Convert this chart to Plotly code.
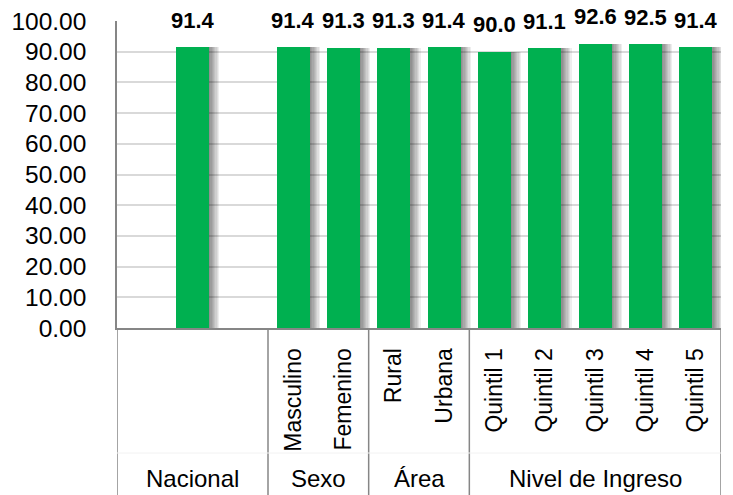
import plotly.graph_objects as go

# ---- data ----
groups = ["Nacional", "Sexo", "Área", "Nivel de Ingreso"]
group_slots = [3, 2, 2, 5]  # slots occupied by each group on the category axis
categories = ["Nacional", "Masculino", "Femenino", "Rural", "Urbana",
              "Quintil 1", "Quintil 2", "Quintil 3", "Quintil 4", "Quintil 5"]
cat_groups = ["Nacional", "Sexo", "Sexo", "Área", "Área",
              "Nivel de Ingreso", "Nivel de Ingreso", "Nivel de Ingreso",
              "Nivel de Ingreso", "Nivel de Ingreso"]
values = [91.4, 91.4, 91.3, 91.3, 91.4, 90.0, 91.1, 92.6, 92.5, 91.4]
tick_labels = ["", "Masculino", "Femenino", "Rural", "Urbana",
               "Quintil 1", "Quintil 2", "Quintil 3", "Quintil 4", "Quintil 5"]
y_ticks = [0, 10, 20, 30, 40, 50, 60, 70, 80, 90, 100]

# ---- positions on the category axis ----
group_start = {}
s = 0
for g, n in zip(groups, group_slots):
    group_start[g] = s
    s += n
total_slots = s
xpos = []
for c, g in zip(categories, cat_groups):
    members = [cc for cc, gg in zip(categories, cat_groups) if gg == g]
    n = group_slots[groups.index(g)]
    if len(members) < n:
        xpos.append(group_start[g] + (n - 1) / 2)
    else:
        xpos.append(group_start[g] + members.index(c))

FONT = "Arial, Liberation Sans, sans-serif"
BAR_W = 0.66

fig = go.Figure()
# soft shadow layers
steps = 8
for i in range(steps, 0, -1):
    k = 0.025 * i
    fig.add_trace(go.Bar(
        x=xpos, y=values, width=BAR_W, offset=-BAR_W / 2 + k,
        marker=dict(color="rgba(0,0,0,0.065)", line=dict(width=0)),
        hoverinfo="skip", showlegend=False))
fig.add_trace(go.Bar(
    x=xpos, y=values, width=BAR_W, offset=-BAR_W / 2,
    marker=dict(color="#00B050", line=dict(width=0)),
    showlegend=False))

# data labels
for x, v in zip(xpos, values):
    fig.add_annotation(x=x, y=v, xref="x", yref="y", text=f"<b>{v:.1f}</b>",
                       showarrow=False, yshift=27, yanchor="middle",
                       font=dict(family=FONT, size=22, color="#000000"))

plot_h = 495 - 21 - 167
bottom_frac = -167 / plot_h

# group dividers and group labels
bounds = [-0.5]
for g, n in zip(groups, group_slots):
    bounds.append(bounds[-1] + n)
for b in bounds:
    fig.add_shape(type="line", xref="x", yref="paper", x0=b, x1=b,
                  y0=0, y1=bottom_frac, line=dict(color="#868686", width=1.5))
fig.add_shape(type="line", xref="x", yref="paper", x0=-0.5, x1=bounds[-1],
              y0=-(453 - 328) / plot_h, y1=-(453 - 328) / plot_h,
              line=dict(color="#F2F2F2", width=1))
for i, g in enumerate(groups):
    fig.add_annotation(x=(bounds[i] + bounds[i + 1]) / 2, y=-(478 - 328) / plot_h,
                       xref="x", yref="paper", text=g, showarrow=False,
                       yanchor="middle", font=dict(family=FONT, size=24, color="#000000"))

fig.update_layout(
    width=733, height=495,
    margin=dict(l=117, r=12, t=21, b=167),
    plot_bgcolor="white", paper_bgcolor="white",
    barmode="overlay", bargap=0,
    font=dict(family=FONT, color="#000000"),
    xaxis=dict(range=[-0.5, total_slots - 0.5], tickvals=xpos, ticktext=tick_labels,
               tickangle=-90, tickfont=dict(family=FONT, size=23, color="#000000"),
               showgrid=False, zeroline=False, showline=True, linecolor="#868686",
               linewidth=2, ticks="", ticklabelstandoff=9, fixedrange=True,
               automargin=False),
    yaxis=dict(range=[0, 100], tickvals=y_ticks,
               ticktext=[f"{t:.2f}" for t in y_ticks],
               tickfont=dict(family=FONT, size=24.5, color="#000000"),
               showgrid=True, gridcolor="#D9D9D9", gridwidth=1.5,
               zeroline=False, showline=True, linecolor="#868686", linewidth=1.5,
               ticks="", ticklabelstandoff=24, fixedrange=True, automargin=False),
)

fig.write_html("out.html", config={"displayModeBar": False},
               post_script="document.body.style.margin='0';document.body.style.overflow='hidden';")
